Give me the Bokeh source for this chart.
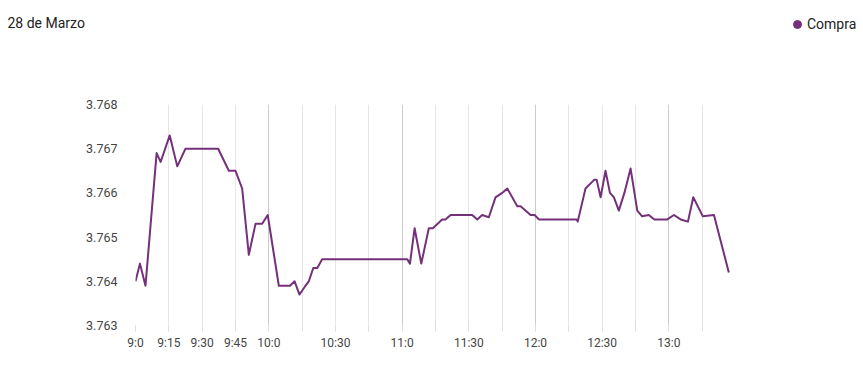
from bokeh.plotting import figure
from bokeh.layouts import column, row
from bokeh.models import FixedTicker, Grid, Legend, LegendItem, Range1d, Label
from bokeh.embed import file_html
from bokeh.resources import INLINE

# ---- data (minutes after 9:00, "Compra" price) ----
minutes = [0, 2, 4.5, 9.5, 11.3, 15.4, 18.8, 22.5, 37.2, 42, 45, 48, 51, 54, 57, 59.5,
           64.5, 69.5, 71.6, 73.8, 76.5, 78, 80, 81.8, 84, 122.3, 123.5, 125.6, 128.6,
           132, 133.8, 138, 139.5, 141.8, 151.5, 153.8, 156, 159, 162, 165, 167.3,
           171.8, 173.3, 177.8, 179.6, 181.5, 198.5, 199, 202.5, 206.5, 207.5, 209.3,
           211.5, 213.5, 215.3, 217.5, 220, 222.8, 225.8, 228, 231, 233.5, 239.3,
           242.3, 245.3, 248.6, 251, 255.3, 260.3, 267]
compra = [3.7640, 3.7644, 3.7639, 3.7669, 3.7667, 3.7673, 3.7666, 3.7670, 3.7670, 3.7665,
          3.7665, 3.7661, 3.7646, 3.7653, 3.7653, 3.7655, 3.7639, 3.7639, 3.7640, 3.7637,
          3.7639, 3.7640, 3.7643, 3.7643, 3.7645, 3.7645, 3.7644, 3.7652, 3.7644, 3.7652,
          3.7652, 3.7654, 3.7654, 3.7655, 3.7655, 3.7654, 3.7655, 3.76545, 3.7659, 3.7660,
          3.7661, 3.7657, 3.7657, 3.7655, 3.7655, 3.7654, 3.7654, 3.76535, 3.7661, 3.7663,
          3.7663, 3.7659, 3.7665, 3.7660, 3.7659, 3.7656, 3.7660, 3.76655, 3.7656, 3.76547,
          3.7655, 3.7654, 3.7654, 3.7655, 3.7654, 3.76535, 3.7659, 3.76547, 3.7655, 3.7642]

tick_minutes = [0, 15, 30, 45, 60, 75, 90, 105, 120, 135, 150, 165, 180, 195, 210, 225, 240, 255]
tick_labels = ["9:0", "9:15", "9:30", "9:45", "10:0", "", "10:30", "", "11:0", "", "11:30", "",
               "12:0", "", "12:30", "", "13:0", ""]
hour_minutes = [60, 120, 180, 240]
y_ticks = [3.763, 3.764, 3.765, 3.766, 3.767, 3.768]

title_text = "28 de Marzo"
series_name = "Compra"

PURPLE = "#74307a"
FONT = "Roboto"
HEADER_H = 48
FRAME_LEFT = 135

# ---------- header (title + legend), its own frame covers the whole strip ----------
header = figure(width=863, height=HEADER_H, output_backend="svg", toolbar_location=None,
                x_axis_location=None, y_axis_location=None,
                x_range=Range1d(0, 1), y_range=Range1d(0, 1),
                min_border=0)
header.outline_line_color = None
header.xgrid.grid_line_color = None
header.ygrid.grid_line_color = None
header.add_layout(Label(x=7, y=HEADER_H - 22, x_units="screen", y_units="screen",
                        text=title_text, text_font=FONT, text_font_size="14px",
                        text_color="#222222", text_baseline="middle"))
dot = header.scatter(x=[0], y=[0], marker="circle", size=10, fill_color=PURPLE,
                     line_color=PURPLE, visible=False)
legend = Legend(items=[LegendItem(label=series_name, renderers=[dot])],
                location=(787, HEADER_H - 24 - 10), orientation="horizontal",
                border_line_color=None, background_fill_alpha=0,
                padding=0, margin=0, spacing=0,
                glyph_width=20, glyph_height=20, label_standoff=0,
                label_text_font=FONT, label_text_font_size="14px",
                label_text_color="#222222")
header.add_layout(legend)

# ---------- main chart ----------
p = figure(width=863, height=377 - HEADER_H, output_backend="svg", toolbar_location=None,
           x_range=Range1d(0, 325.35), y_range=Range1d(3.763, 3.768),
           min_border_left=FRAME_LEFT, min_border_right=5, min_border_top=104 - HEADER_H,
           min_border_bottom=52)
p.outline_line_color = None

# x axis
p.xaxis.ticker = FixedTicker(ticks=tick_minutes)
p.xaxis.major_label_overrides = {m: l for m, l in zip(tick_minutes, tick_labels)}
p.xaxis.axis_line_color = None
p.xaxis.major_tick_line_color = "#dddddd"
p.xaxis.major_tick_out = 6
p.xaxis.major_tick_in = 0
p.xaxis.minor_tick_line_color = None
p.xaxis.major_label_text_font = FONT
p.xaxis.major_label_text_font_size = "12px"
p.xaxis.major_label_text_color = "#444444"
p.xaxis.major_label_standoff = 4

# y axis
p.yaxis.ticker = FixedTicker(ticks=y_ticks)
p.yaxis.axis_line_color = None
p.yaxis.major_tick_line_color = None
p.yaxis.minor_tick_line_color = None
p.yaxis.major_label_text_font = FONT
p.yaxis.major_label_text_font_size = "12.5px"
p.yaxis.major_label_text_color = "#444444"
p.yaxis.major_label_standoff = 12

# grids
p.ygrid.grid_line_color = None
p.xgrid.ticker = FixedTicker(ticks=tick_minutes)
p.xgrid.grid_line_color = "#e6e6e6"
p.add_layout(Grid(dimension=0, ticker=FixedTicker(ticks=hour_minutes), grid_line_color="#cccccc"))

# series
p.line(minutes, compra, line_color=PURPLE, line_width=2, line_join="round")

open("out.html", "w").write(file_html(column(row(header), p, spacing=0), INLINE))
